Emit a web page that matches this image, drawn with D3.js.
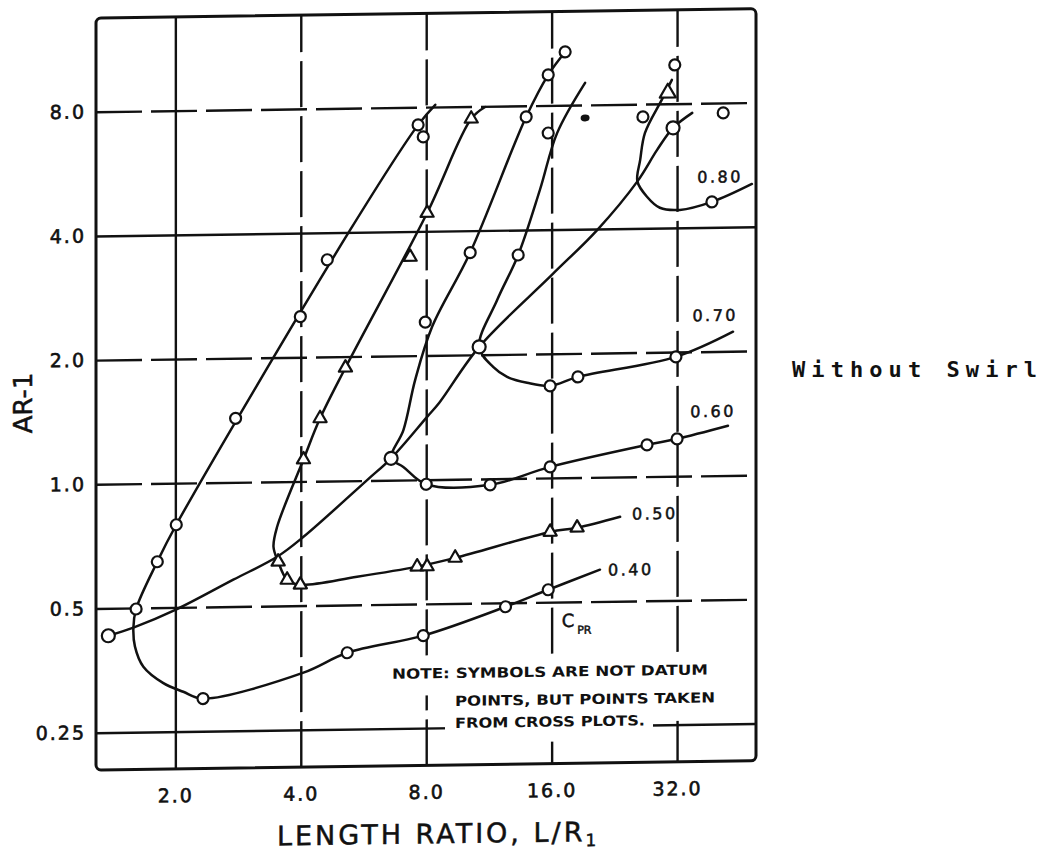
<!DOCTYPE html>
<html>
<head>
<meta charset="utf-8">
<script src="https://cdn.jsdelivr.net/npm/d3@7"></script>
<style>
  body { margin: 0; background: #fff; }
  svg { display: block; }
</style>
</head>
<body>
<svg id="chart" width="1044" height="859"></svg>
<script>
// Axis ticks
const xTicks = [2, 4, 8, 16, 32];
const xTickLabels = ["2.0", "4.0", "8.0", "16.0", "32.0"];
const yTicks = [0.25, 0.5, 1, 2, 4, 8];
const yTickLabels = ["0.25", "0.5", "1.0", "2.0", "4.0", "8.0"];

// Constant-C_PR curves as [L/R1, AR-1]
const cprLabels = ["0.40", "0.50", "0.60", "0.70", "0.80"];
const curve040 = [[8.41, 8.10], [7.65, 7.25], [5.26, 4.06], [2.01, 0.793], [1.81, 0.646], [1.61, 0.497],
  [1.586, 0.448], [1.60, 0.403], [1.676, 0.360], [1.872, 0.328], [2.09, 0.312], [2.33, 0.300],
  [4.06, 0.344], [5.17, 0.383], [7.87, 0.419], [12.4, 0.489], [15.7, 0.536], [20.9, 0.597]];
const curve050 = [[11.08, 7.97], [10.26, 7.47], [8.04, 4.43], [5.12, 1.88], [4.45, 1.42], [4.06, 1.13],
  [3.51, 0.778], [3.44, 0.696], [3.53, 0.640], [3.71, 0.578], [3.99, 0.562], [5.46, 0.585],
  [7.61, 0.616], [9.39, 0.645], [15.87, 0.740], [18.42, 0.756], [23.36, 0.801]];
const curve060 = [[17.24, 10.77], [15.7, 9.49], [13.9, 7.52], [10.2, 3.54], [8.27, 2.35], [7.53, 1.75],
  [7.05, 1.32], [6.59, 1.13], [7.05, 1.076], [8.0, 0.975], [11.39, 0.967], [15.87, 1.064],
  [27.1, 1.194], [32.0, 1.232], [42.4, 1.32]];
const curve070 = [[19.25, 9.05], [16.5, 6.86], [15.0, 5.0], [13.3, 3.48], [11.84, 2.71],
  [10.72, 2.09], [11.58, 1.867], [12.51, 1.764], [13.97, 1.704], [15.87, 1.672], [18.5, 1.754],
  [31.8, 1.947], [43.6, 2.23]];
const curve080 = [[31.1, 9.14], [29.4, 8.18], [26.8, 6.81], [26.1, 5.86], [25.7, 5.2], [27.1, 4.77],
  [29.1, 4.48], [32.5, 4.42], [38.8, 4.61], [48.4, 5.08]];

// Line through the knees of the C_PR curves
const kneeLine = [[1.381, 0.429], [1.586, 0.448], [2.0, 0.493], [2.755, 0.581], [3.51, 0.658],
  [4.06, 0.734], [5.78, 1.004], [6.59, 1.13], [8.04, 1.42], [8.6, 1.535], [10.72, 2.09],
  [16.04, 3.11], [20.6, 3.98], [25.7, 5.2], [28.66, 6.19], [31.3, 6.99], [34.8, 7.59]];

// Cross-plot symbols
const marks040 = [[7.65, 7.25], [7.87, 6.78], [4.63, 3.44], [3.99, 2.51], [2.79, 1.43], [2.01, 0.793],
  [1.81, 0.646], [1.61, 0.497], [2.33, 0.300], [5.17, 0.383], [7.87, 0.419], [12.4, 0.489],
  [15.7, 0.536]];
const marks050 = [[10.26, 7.47], [8.04, 4.43], [7.32, 3.47], [5.12, 1.88], [4.45, 1.42], [4.06, 1.13],
  [3.53, 0.640], [3.71, 0.578], [3.99, 0.562], [7.61, 0.616], [8.04, 0.616], [9.39, 0.645],
  [15.87, 0.740], [18.42, 0.756]];
const marks060 = [[17.24, 10.77], [15.7, 9.49], [13.9, 7.52], [10.2, 3.54], [7.96, 2.41], [8.0, 0.975],
  [11.39, 0.967], [15.87, 1.064], [27.1, 1.194], [32.0, 1.232]];
const marks070 = [[15.7, 6.86], [13.3, 3.48], [15.87, 1.672], [18.5, 1.754], [31.8, 1.947]];
const marks080 = [[38.8, 4.61], [26.5, 7.45], [31.6, 9.93], [41.3, 7.57]];
const marks080Tri = [[30.4, 8.5]];
const marksKnee = [[1.381, 0.429], [6.59, 1.13], [10.72, 2.09], [31.3, 6.99]];
const marksSolid = [[19.25, 7.44]];

const ink = "#111";
const svg = d3.select("#chart");

// plot frame
const X0 = 96, X1 = 756, Y0 = 18, Y1 = 770;
const x = d3.scaleLog().base(2).domain([1.29, 49.5]).range([X0, X1]);
const y = d3.scaleLog().base(2).domain([0.203, 13.5]).range([Y1, Y0]);

// the whole sheet leans slightly
const g = svg.append("g")
  .attr("transform", `translate(${X0},0) skewY(-0.8) translate(${-X0},0)`);

// grid (dashed where the sheet shows broken rules)
const xDashed = [false, true, true, true, true];
const yDashed = [false, true, true, true, false, true];

const gx = g.append("g").attr("transform", `translate(0,${Y1})`)
  .call(d3.axisBottom(x).tickValues(xTicks).tickSize(-(Y1 - Y0)).tickFormat(""));
gx.select(".domain").remove();
gx.selectAll(".tick line")
  .attr("stroke", ink).attr("stroke-width", 2.4)
  .attr("stroke-dasharray", (d, i) => xDashed[i] ? "46,9" : null);

const gy = g.append("g").attr("transform", `translate(${X0},0)`)
  .call(d3.axisLeft(y).tickValues(yTicks).tickSize(-(X1 - X0)).tickFormat(""));
gy.select(".domain").remove();
gy.selectAll(".tick line")
  .attr("stroke", ink).attr("stroke-width", 2.4)
  .attr("stroke-dasharray", (d, i) => yDashed[i] ? "46,9" : null);

// clear space for the note
g.append("rect").attr("x", 386).attr("y", 668).attr("width", 326).attr("height", 32).attr("fill", "#fff");
g.append("rect").attr("x", 445).attr("y", 662).attr("width", 208).attr("height", 86).attr("fill", "#fff");
g.append("rect").attr("x", 653).attr("y", 662).attr("width", 67).attr("height", 67).attr("fill", "#fff");

// frame
g.append("rect")
  .attr("x", X0).attr("y", Y0).attr("width", X1 - X0).attr("height", Y1 - Y0)
  .attr("rx", 5).attr("fill", "none").attr("stroke", ink).attr("stroke-width", 3);

// tick labels
const tickFont = "'DejaVu Sans', sans-serif";
const ax = g.append("g").attr("transform", `translate(0,${Y1})`)
  .call(d3.axisBottom(x).tickValues(xTicks).tickSize(0).tickPadding(20)
    .tickFormat((d, i) => xTickLabels[i]));
ax.select(".domain").remove();
ax.selectAll("text").attr("font-family", tickFont).attr("font-size", 19)
  .attr("letter-spacing", 2).attr("fill", ink)
  .attr("stroke", ink).attr("stroke-width", 0.6);

const ay = g.append("g").attr("transform", `translate(${X0},0)`)
  .call(d3.axisLeft(y).tickValues(yTicks).tickSize(0).tickPadding(10)
    .tickFormat((d, i) => yTickLabels[i]));
ay.select(".domain").remove();
ay.selectAll("text").attr("font-family", tickFont).attr("font-size", 19)
  .attr("letter-spacing", 2).attr("fill", ink)
  .attr("stroke", ink).attr("stroke-width", 0.6);

// curves
const line = d3.line()
  .x(d => x(d[0])).y(d => y(d[1]))
  .curve(d3.curveCatmullRom.alpha(0.5));

const curves = [curve040, curve050, curve060, curve070, curve080];
g.selectAll(null).data(curves.concat([kneeLine])).join("path")
  .attr("d", line).attr("fill", "none")
  .attr("stroke", ink).attr("stroke-width", 2.5)
  .attr("stroke-linejoin", "round").attr("stroke-linecap", "round");

// symbols
function rings(data, r) {
  g.selectAll(null).data(data).join("circle")
    .attr("cx", d => x(d[0])).attr("cy", d => y(d[1])).attr("r", r)
    .attr("fill", "#fff").attr("stroke", ink).attr("stroke-width", 2.2);
}
function triangles(data, size) {
  g.selectAll(null).data(data).join("path")
    .attr("transform", d => `translate(${x(d[0])},${y(d[1])})`)
    .attr("d", d3.symbol(d3.symbolTriangle, size))
    .attr("fill", "#fff").attr("stroke", ink).attr("stroke-width", 2.2)
    .attr("stroke-linejoin", "round");
}
rings(marks040, 5.5);
triangles(marks050, 75);
rings(marks060, 5.5);
rings(marks070, 5.5);
rings(marks080, 5.5);
triangles(marks080Tri, 110);
rings(marksKnee, 6.5);
g.selectAll(null).data(marksSolid).join("ellipse")
  .attr("cx", d => x(d[0])).attr("cy", d => y(d[1])).attr("rx", 4.5).attr("ry", 3.5)
  .attr("fill", ink);

// curve labels, placed off each curve's right end
const labelOffsets = [[8, 6, "start"], [12, 3, "start"], [8, -9, "end"], [5, -11, "end"], [-9, -2, "end"]];
g.selectAll(null).data(curves).join("text")
  .attr("x", (d, i) => x(d[d.length - 1][0]) + labelOffsets[i][0])
  .attr("y", (d, i) => y(d[d.length - 1][1]) + labelOffsets[i][1])
  .attr("text-anchor", (d, i) => labelOffsets[i][2])
  .attr("font-family", tickFont).attr("font-size", 16).attr("letter-spacing", 2.5)
  .attr("fill", ink).attr("stroke", ink).attr("stroke-width", 0.5)
  .text((d, i) => cprLabels[i]);

// C_PR tag
const cpr = g.append("text")
  .attr("x", x(16) + 10).attr("y", y(0.5) + 25)
  .attr("font-family", tickFont).attr("font-size", 18).attr("fill", ink)
  .attr("stroke", ink).attr("stroke-width", 0.5);
cpr.append("tspan").text("C");
cpr.append("tspan").attr("dx", 3).attr("dy", 7).attr("font-size", 11).text("PR");

// note
const noteFont = "'DejaVu Sans', sans-serif";
const noteLines = [
  { t: "NOTE: SYMBOLS ARE NOT DATUM", x: 392, y: 683, w: 316 },
  { t: "POINTS, BUT POINTS TAKEN", x: 455, y: 711, w: 260 },
  { t: "FROM CROSS PLOTS.", x: 455, y: 733, w: 190 }
];
g.selectAll(null).data(noteLines).join("text")
  .attr("x", d => d.x).attr("y", d => d.y)
  .attr("textLength", d => d.w).attr("lengthAdjust", "spacingAndGlyphs")
  .attr("font-family", noteFont).attr("font-size", 14).attr("font-weight", "bold")
  .attr("fill", ink)
  .text(d => d.t);

// axis titles
const xt = g.append("text")
  .attr("x", 277).attr("y", 848)
  .attr("font-family", tickFont).attr("font-size", 27).attr("letter-spacing", 3)
  .attr("fill", ink).attr("stroke", ink).attr("stroke-width", 0.5);
xt.append("tspan").text("LENGTH RATIO, L/R");
xt.append("tspan").attr("dy", 5).attr("font-size", 17).text("1");

g.append("text")
  .attr("transform", "translate(32,402) rotate(-90)")
  .attr("text-anchor", "middle")
  .attr("font-family", tickFont).attr("font-size", 26).attr("fill", ink)
  .attr("stroke", ink).attr("stroke-width", 0.5)
  .text("AR-1");

// side caption
svg.append("text")
  .attr("x", 792).attr("y", 377)
  .attr("textLength", 245).attr("lengthAdjust", "spacing")
  .attr("font-family", "'DejaVu Sans Mono', monospace").attr("font-size", 22)
  .attr("font-weight", "bold").attr("fill", ink)
  .text("Without Swirl");
</script>
</body>
</html>
